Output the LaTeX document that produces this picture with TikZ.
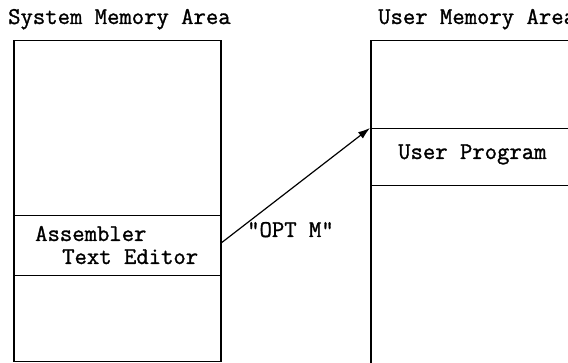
\documentclass[tikz,border=0pt]{standalone}
\usepackage{fontspec}
\setmonofont{Latin Modern Mono}[FakeBold=1.2]
\usepackage{tikz}
\usetikzlibrary{arrows.meta}

\begin{document}
\begin{tikzpicture}[x=1pt,y=-1pt,
  part/.style={draw,line width=1.5pt,rectangle,inner sep=0pt,anchor=north west},
  lbl/.style={font=\ttfamily\fontsize{24}{25}\selectfont,inner sep=0pt,anchor=base west}]
        \useasboundingbox (0,0) rectangle (568,363);
        \clip (0,0) rectangle (568,363);
        % system side
        \node[lbl] (systitle) at (8,24) {System Memory Area};
        \node[part,minimum width=207pt,minimum height=175pt] (systop) at (13,40) {};
        \node[part,minimum width=207pt,minimum height=60pt] (sysasm) at (13,215) {};
        \node[part,minimum width=207pt,minimum height=86pt] (sysbot) at (13,275) {};
        \node[lbl] (asmname) at (35,241) {Assembler};
        \node[lbl] (editname) at (62,264) {Text Editor};
        % user side
        \node[lbl] (usrtitle) at (378,24) {User Memory Area};
        \node[part,minimum width=260pt,minimum height=88pt] (usrtop) at (370,40) {};
        \node[part,minimum width=260pt,minimum height=57pt] (usrprog) at (370,128) {};
        \node[part,minimum width=260pt,minimum height=250pt] (usrbot) at (370,185) {};
        \node[lbl] (progname) at (398,159) {User Program};
        % the move
        \draw[line width=1.2pt,-{Latex[length=12pt,width=8pt]}] ([yshift=3pt]sysasm.east) -- (usrprog.north west);
        \node[lbl] (optm) at (247,237) {"OPT M"};
\end{tikzpicture}
\end{document}
